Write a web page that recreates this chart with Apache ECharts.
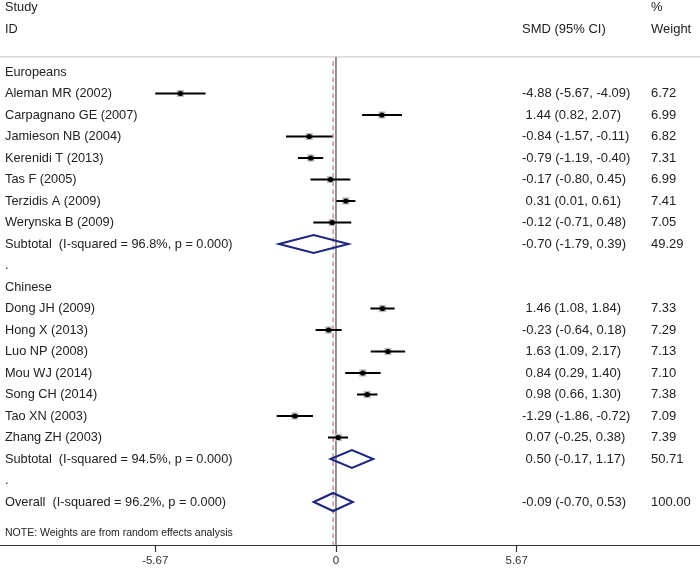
<!DOCTYPE html>
<html><head><meta charset="utf-8">
<script src="https://cdn.jsdelivr.net/npm/echarts@6/dist/echarts.min.js"></script>
<style>html,body{margin:0;padding:0;background:#fff}#c{width:700px;height:580px}</style>
</head><body><div id="c"></div>
<script>
// ---- data ----
const rowLabels = [
  "Europeans",
  "Aleman MR (2002)", "Carpagnano GE (2007)", "Jamieson NB (2004)", "Kerenidi T (2013)",
  "Tas F (2005)", "Terzidis A (2009)", "Werynska B (2009)",
  "Subtotal  (I-squared = 96.8%, p = 0.000)",
  ".",
  "Chinese",
  "Dong JH (2009)", "Hong X (2013)", "Luo NP (2008)", "Mou WJ (2014)",
  "Song CH (2014)", "Tao XN (2003)", "Zhang ZH (2003)",
  "Subtotal  (I-squared = 94.5%, p = 0.000)",
  ".",
  "Overall  (I-squared = 96.2%, p = 0.000)"
];
const rowType = [
  "head",
  "study","study","study","study","study","study","study",
  "sub","blank","head",
  "study","study","study","study","study","study","study",
  "sub","blank","sub"
];
const smd    = [null, -4.88, 1.44, -0.84, -0.79, -0.17, 0.31, -0.12, -0.70, null, null, 1.46, -0.23, 1.63, 0.84, 0.98, -1.29, 0.07, 0.50, null, -0.09];
const ciLow  = [null, -5.67, 0.82, -1.57, -1.19, -0.80, 0.01, -0.71, -1.79, null, null, 1.08, -0.64, 1.09, 0.29, 0.66, -1.86, -0.25, -0.17, null, -0.70];
const ciHigh = [null, -4.09, 2.07, -0.11, -0.40, 0.45, 0.61, 0.48, 0.39, null, null, 1.84, 0.18, 2.17, 1.40, 1.30, -0.72, 0.38, 1.17, null, 0.53];
const weight = [null, 6.72, 6.99, 6.82, 7.31, 6.99, 7.41, 7.05, 49.29, null, null, 7.33, 7.29, 7.13, 7.10, 7.38, 7.09, 7.39, 50.71, null, 100.00];
const xTicks = [-5.67, 0, 5.67];
const xTickLabels = ["-5.67", "0", "5.67"];
const overallEstimate = -0.09;
const noteText = "NOTE: Weights are from random effects analysis";

// ---- layout ----
const FONT = "'Liberation Sans', Arial, sans-serif";
const FS_LABEL = 12.75;
const FS = 13;
const TXT = "#222";
const COL_LABEL = 5, COL_SMD = 522, COL_W = 651;

function fmt(v){ return (v < 0 ? "" : " ") + v.toFixed(2); }

const studyData = [], diamondData = [], textData = [];
rowLabels.forEach((lab, i) => {
  let smdTxt = "", wTxt = "";
  if (smd[i] !== null) {
    smdTxt = fmt(smd[i]) + " (" + ciLow[i].toFixed(2) + ", " + ciHigh[i].toFixed(2) + ")";
    wTxt = weight[i].toFixed(2);
    if (rowType[i] === "study") studyData.push([smd[i], ciLow[i], ciHigh[i], i, weight[i]]);
    else diamondData.push([smd[i], ciLow[i], ciHigh[i], i]);
  }
  textData.push({ value: [0, i], lab: lab, smd: smdTxt, w: wTxt });
});
const headerData = [
  { value: [0, -3], lab: "Study", smd: "", w: "%" },
  { value: [0, -2], lab: "ID", smd: "SMD (95% CI)", w: "Weight" }
];
const allText = headerData.concat(textData);

function txt(x, y, s, size) {
  return { type: "text", style: { x: x, y: y, text: s, fill: TXT, font: (size || FS) + "px " + FONT, verticalAlign: "middle" } };
}

const chart = echarts.init(document.getElementById("c"), null, { renderer: "canvas" });
chart.setOption({
  animation: false,
  grid: { left: 0, right: 0, top: 7.5, bottom: 35, containLabel: false },
  xAxis: {
    type: "value", min: -10.54, max: 11.42,
    splitLine: { show: false },
    axisLine: { show: true, onZero: false, lineStyle: { color: "#333", width: 1 } },
    axisTick: { show: true, customValues: xTicks, length: 7, lineStyle: { color: "#333", width: 1.2 } },
    axisLabel: { customValues: xTicks, formatter: v => xTickLabels[xTicks.indexOf(v)] ?? String(v), color: "#333", fontSize: 11.5, fontFamily: FONT, margin: 10 }
  },
  yAxis: { type: "value", min: -3, max: 22, inverse: true, show: false },
  series: [
    { // reference lines and separator
      type: "custom", data: [[0]], silent: true, z: 1,
      renderItem: (params, api) => {
        const sepY = api.coord([0, -0.7])[1];
        const zero = api.coord([0, -0.7]);
        const bottom = api.coord([0, 22]);
        const ov = api.coord([overallEstimate, -0.5]);
        return { type: "group", children: [
          { type: "line", shape: { x1: 0, y1: sepY, x2: 700, y2: sepY }, style: { stroke: "#cfcfcf", lineWidth: 1.2 } },
          { type: "line", shape: { x1: ov[0], y1: ov[1], x2: ov[0], y2: bottom[1] }, style: { stroke: "#a8606c", lineWidth: 1, lineDash: [5, 3] } },
          { type: "line", shape: { x1: zero[0], y1: zero[1], x2: zero[0], y2: bottom[1] }, style: { stroke: "#555", lineWidth: 1.3 } }
        ]};
      }
    },
    { // studies
      type: "custom", data: studyData, z: 3, silent: true,
      renderItem: (params, api) => {
        const p = api.coord([api.value(0), api.value(3)]);
        const l = api.coord([api.value(1), api.value(3)]);
        const h = api.coord([api.value(2), api.value(3)]);
        const s = 2.7 * Math.sqrt(api.value(4));
        return { type: "group", children: [
          { type: "rect", shape: { x: p[0] - s / 2, y: p[1] - s / 2, width: s, height: s }, style: { fill: "#bdbdbd" } },
          { type: "line", shape: { x1: l[0], y1: l[1], x2: h[0], y2: h[1] }, style: { stroke: "#000", lineWidth: 2 } },
          { type: "circle", shape: { cx: p[0], cy: p[1], r: 2.6 }, style: { fill: "#000" } }
        ]};
      }
    },
    { // diamonds
      type: "custom", data: diamondData, z: 2, silent: true,
      renderItem: (params, api) => {
        const r = api.value(3);
        const pts = [
          api.coord([api.value(1), r]), api.coord([api.value(0), r - 0.42]),
          api.coord([api.value(2), r]), api.coord([api.value(0), r + 0.42])
        ];
        return { type: "polygon", shape: { points: pts }, style: { fill: "none", stroke: "#1c2580", lineWidth: 2 } };
      }
    },
    { // table text
      type: "custom", data: allText, z: 4, silent: true,
      renderItem: (params, api) => {
        const d = allText[params.dataIndex];
        const y = api.coord([0, api.value(1)])[1];
        const ch = [txt(COL_LABEL, y, d.lab, FS_LABEL)];
        if (d.smd) ch.push(txt(COL_SMD, y, d.smd));
        if (d.w) ch.push(txt(COL_W, y, d.w));
        return { type: "group", children: ch };
      }
    },
    { // note
      type: "custom", data: [[0, 21.44]], z: 4, silent: true,
      renderItem: (params, api) => {
        const y = api.coord([0, api.value(1)])[1];
        return txt(COL_LABEL, y, noteText, 10.5);
      }
    }
  ]
});
</script></body></html>
